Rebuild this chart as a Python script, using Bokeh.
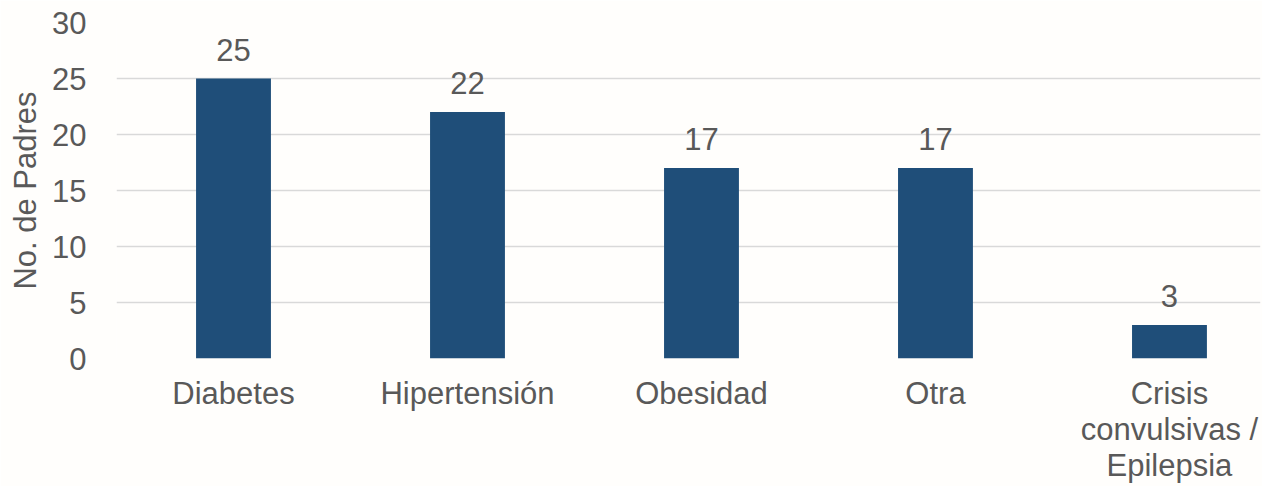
from bokeh.plotting import figure
from bokeh.models import Range1d, FixedTicker, ColumnDataSource
from bokeh.core.properties import value
from bokeh.embed import file_html
from bokeh.resources import INLINE

categories = ["Diabetes", "Hipertensión", "Obesidad", "Otra", "Crisis\nconvulsivas /\nEpilepsia"]
values = [25, 22, 17, 17, 3]
y_ticks = [0, 5, 10, 15, 20, 25, 30]
y_label = "No. de Padres"

FONT = "Liberation Sans"
TXT = "#595959"
BAR = "#1F4E79"

xs = list(range(len(categories)))
src = ColumnDataSource(dict(x=xs, top=values, lab=[str(v) for v in values]))

p = figure(width=1262, height=486, output_backend="svg", toolbar_location=None,
           x_range=Range1d(-0.5, 4.389), y_range=Range1d(0, 30),
           min_border_left=116, min_border_right=2, min_border_top=22, min_border_bottom=100)

p.background_fill_color = "#FFFEFC"
p.border_fill_color = "#FFFEFC"
p.outline_line_color = None

p.vbar(x="x", top="top", bottom=0, width=0.32, source=src, fill_color=BAR, line_color=None)
p.text(x="x", y="top", text="lab", source=src, y_offset=-18, text_align="center",
       text_baseline="bottom", text_font=value(FONT), text_font_size="31px", text_color=TXT)

p.xaxis.ticker = FixedTicker(ticks=xs)
p.xaxis.major_label_overrides = {i: c for i, c in enumerate(categories)}
p.yaxis.ticker = FixedTicker(ticks=y_ticks)
for ax in (p.xaxis, p.yaxis):
    ax.axis_line_color = None
    ax.major_tick_line_color = None
    ax.minor_tick_line_color = None
    ax.major_label_text_font = FONT
    ax.major_label_text_font_size = "31px"
    ax.major_label_text_color = TXT
p.xaxis.major_label_standoff = 11
p.xaxis.major_label_text_line_height = 1.04
p.yaxis.major_label_standoff = 24
p.yaxis.axis_label = y_label
p.yaxis.axis_label_text_font = FONT
p.yaxis.axis_label_text_font_size = "31px"
p.yaxis.axis_label_text_font_style = "normal"
p.yaxis.axis_label_text_color = TXT
p.yaxis.axis_label_standoff = 6

p.xgrid.grid_line_color = None
p.ygrid.grid_line_color = "#D9D9D9"
p.ygrid.grid_line_width = 1.5

open("out.html", "w").write(file_html(p, INLINE))
